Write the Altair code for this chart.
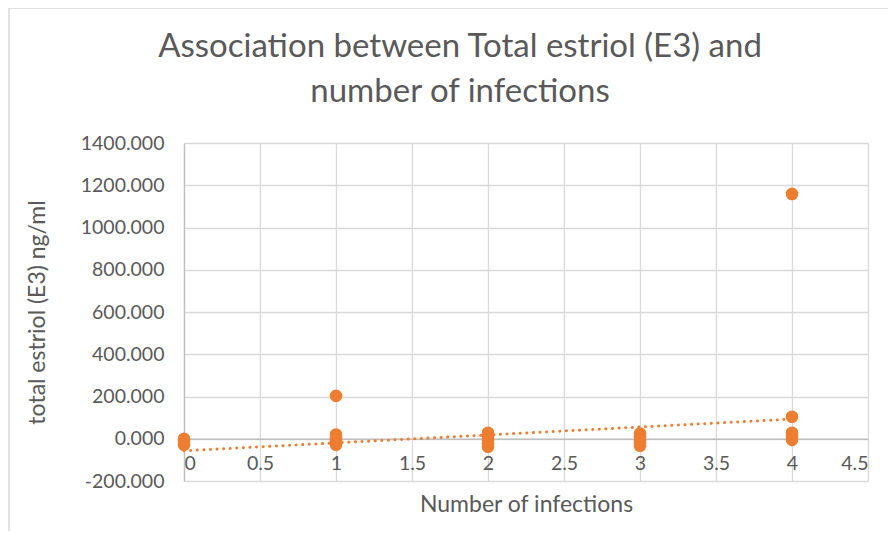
import altair as alt
import pandas as pd

# Data
x0_vals = [0, -12, -28]
x1_vals = [203, 20, 5, -10, -28]
x2_vals = [28, 12, -5, -22, -38]
x3_vals = [25, 10, -5, -20, -33]
x4_vals = [1159, 104, 28, 12, -5]

trend_x = [0, 4]
trend_y = [-57, 93]

x_ticks = [0, 0.5, 1, 1.5, 2, 2.5, 3, 3.5, 4, 4.5]
y_ticks = [-200, 0, 200, 400, 600, 800, 1000, 1200, 1400]

title_lines = ["Association between Total estriol (E3) and", "number of infections"]

rows = []
for xv, vals in zip([0, 1, 2, 3, 4], [x0_vals, x1_vals, x2_vals, x3_vals, x4_vals]):
    for v in vals:
        rows.append({"infections": xv, "e3": v})
df = pd.DataFrame(rows)
trend = pd.DataFrame({"infections": trend_x, "e3": trend_y})

FONT = "Lato"
TXT = "#595959"
ORANGE = "#ED7D31"
W, H = 684, 338
PAD_L, PAD_T = 176, 135

xscale = alt.Scale(domain=[0, 4.5], nice=False, zero=False)
yscale = alt.Scale(domain=[-200, 1400], nice=False, zero=False)

x_off = -(H * 200 / 1600)

points = alt.Chart(df).mark_circle(size=160, color=ORANGE, opacity=1).encode(
    x=alt.X("infections:Q", scale=xscale,
            axis=alt.Axis(title="Number of infections", values=x_ticks, format="~g",
                          offset=x_off, ticks=False, labelPadding=16,
                          titlePadding=20, domainColor="#BFBFBF", domainWidth=1.3,
                          gridColor="#D9D9D9", gridWidth=1.3)),
    y=alt.Y("e3:Q", scale=yscale,
            axis=alt.Axis(title="total estriol (E3) ng/ml", values=y_ticks,
                          labelExpr="replace(format(datum.value, '.3f'), '\u2212', '-')",
                          ticks=False, labelPadding=20, titlePadding=31,
                          domainColor="#BFBFBF", domainWidth=1.3,
                          gridColor="#D9D9D9", gridWidth=1.3)),
)

line = alt.Chart(trend).mark_line(color=ORANGE, strokeWidth=3, strokeCap="round",
                                  strokeDash=[0.1, 6.5]).encode(
    x=alt.X("infections:Q", scale=xscale),
    y=alt.Y("e3:Q", scale=yscale),
)

frame = alt.Chart(pd.DataFrame({"a": [0]})).mark_rect(
    fill=None, stroke="#D9D9D9", strokeWidth=1.5, clip=False
).encode(
    x=alt.value(-PAD_L + 1), x2=alt.value(W + 400),
    y=alt.value(-PAD_T), y2=alt.value(H + 400),
)

title = alt.Chart(pd.DataFrame({"t": [title_lines]})).mark_text(
    font=FONT, fontSize=33, color=TXT, lineHeight=45, baseline="middle",
    align="center", clip=False
).encode(
    text="t", x=alt.value(276), y=alt.value(-96),
)

chart = alt.layer(frame, title, line, points).properties(
    width=W, height=H,
    autosize=alt.AutoSizeParams(type="none"),
    padding={"left": PAD_L, "top": PAD_T, "right": 20, "bottom": 50},
).configure_axis(
    labelFont=FONT, titleFont=FONT, labelFontSize=19.5, titleFontSize=23,
    labelColor=TXT, titleColor=TXT, titleFontWeight="normal",
).configure_view(stroke=None)

chart.save("out.html", embed_options={"renderer": "svg", "actions": False})
